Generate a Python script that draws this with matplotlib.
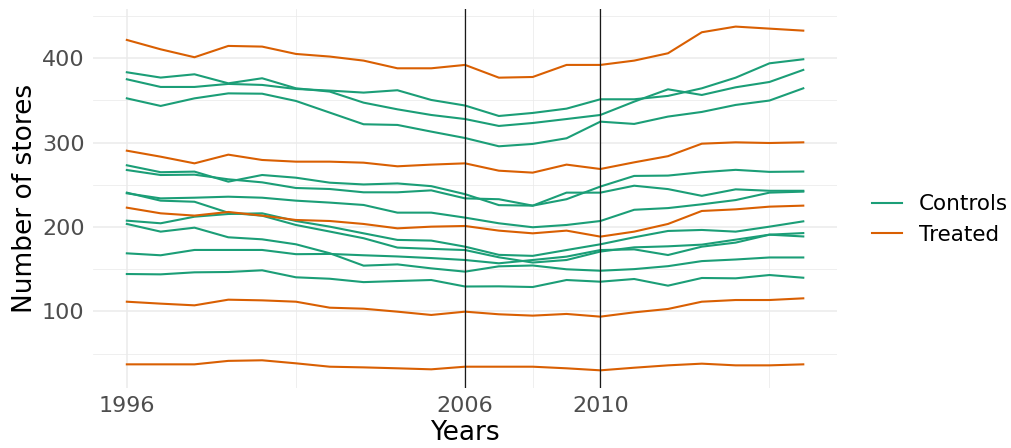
import matplotlib.pyplot as plt
from matplotlib.lines import Line2D

YEARS = [1996, 1997, 1998, 1999, 2000, 2001, 2002, 2003, 2004, 2005, 2006,
         2007, 2008, 2009, 2010, 2011, 2012, 2013, 2014, 2015, 2016]

# ---- Controls (green) ----
ctrl_1 = [383.4, 377.1, 381.0, 370.3, 376.3, 364.4, 360.5, 347.4, 339.5, 332.8, 328.0,
          319.8, 323.3, 328.0, 332.8, 348.6, 363.2, 356.5, 365.6, 371.9, 386.2]
ctrl_2 = [375.1, 366.0, 366.0, 369.6, 368.4, 363.6, 361.7, 359.3, 362.1, 350.6, 344.0,
          331.6, 335.2, 340.3, 351.4, 351.4, 355.4, 364.4, 377.0, 394.0, 398.8]
ctrl_3 = [352.5, 343.5, 352.5, 358.4, 358.0, 349.4, 335.6, 321.8, 321.0, 313.1, 305.5,
          295.7, 298.5, 305.2, 324.9, 322.2, 330.9, 336.4, 344.7, 349.9, 364.4]
ctrl_4 = [273.2, 265.0, 265.7, 253.8, 261.7, 258.5, 252.6, 250.5, 251.7, 248.5, 239.0,
          226.0, 225.4, 240.8, 240.8, 249.0, 245.0, 237.0, 244.7, 243.0, 243.0]
ctrl_5 = [267.6, 261.7, 262.1, 256.6, 253.0, 246.3, 245.1, 241.2, 241.2, 243.5, 234.0,
          233.0, 225.4, 233.0, 248.0, 260.6, 261.0, 265.0, 267.8, 265.4, 265.8]
ctrl_6 = [240.0, 234.0, 234.8, 236.0, 234.8, 231.3, 229.0, 226.2, 217.1, 217.1, 211.2,
          204.5, 199.8, 202.5, 207.2, 220.5, 222.5, 227.0, 232.0, 240.8, 242.0]
ctrl_7 = [240.8, 231.3, 230.0, 217.0, 213.5, 202.5, 194.7, 186.8, 175.7, 174.2, 172.8,
          164.2, 158.0, 161.0, 171.0, 176.0, 177.2, 179.2, 185.1, 191.0, 192.9]
ctrl_8 = [207.6, 204.5, 212.3, 215.5, 216.3, 207.2, 200.5, 192.6, 184.8, 184.0, 176.8,
          167.1, 165.9, 172.8, 179.6, 187.9, 195.4, 196.6, 194.6, 200.5, 206.8]
ctrl_9 = [203.7, 194.6, 199.3, 187.9, 185.5, 179.6, 169.0, 154.3, 155.8, 151.1, 147.2,
          153.5, 154.5, 150.0, 148.3, 150.2, 153.7, 159.7, 161.6, 164.0, 164.0]
ctrl_10 = [168.9, 166.6, 172.9, 172.9, 172.9, 167.9, 168.2, 166.6, 165.2, 163.3, 161.0,
           157.1, 161.0, 165.0, 172.8, 173.6, 166.9, 176.8, 181.6, 191.0, 188.9]
ctrl_11 = [144.4, 144.0, 146.4, 146.8, 148.8, 140.5, 138.8, 134.8, 136.1, 137.3, 129.6,
           129.8, 129.0, 137.3, 135.3, 138.5, 130.6, 139.7, 139.3, 143.2, 140.0]

# ---- Treated (orange) ----
treat_1 = [421.7, 410.6, 401.2, 414.6, 413.8, 405.1, 402.0, 397.2, 388.1, 388.1, 392.1,
           377.0, 377.8, 392.1, 392.1, 397.2, 405.9, 430.8, 437.5, 435.1, 432.7]
treat_2 = [290.5, 283.4, 275.5, 285.8, 279.5, 277.5, 277.5, 276.3, 272.0, 274.0, 275.5,
           266.8, 264.5, 274.0, 268.8, 276.7, 284.0, 298.8, 300.4, 299.6, 300.4]
treat_3 = [223.0, 216.3, 213.6, 217.9, 213.6, 208.4, 207.2, 203.7, 198.5, 200.5, 201.3,
           195.8, 192.6, 195.8, 188.7, 194.6, 203.7, 219.1, 221.0, 224.2, 225.4]
treat_4 = [111.6, 109.3, 107.3, 114.0, 113.2, 111.6, 104.5, 103.3, 99.8, 95.9, 99.8,
           96.7, 95.1, 97.1, 93.9, 99.0, 103.0, 111.6, 113.6, 113.6, 115.6]
treat_5 = [37.4, 37.4, 37.4, 41.5, 42.2, 38.6, 34.6, 33.8, 32.7, 31.5, 34.6,
           34.6, 34.6, 32.7, 30.3, 33.4, 36.2, 38.2, 36.2, 36.2, 37.4]

controls = [ctrl_1, ctrl_2, ctrl_3, ctrl_4, ctrl_5, ctrl_6, ctrl_7, ctrl_8,
            ctrl_9, ctrl_10, ctrl_11]
treated = [treat_1, treat_2, treat_3, treat_4, treat_5]

EVENT_YEARS = [2006, 2010]
X_TICKS = [1996, 2006, 2010]
X_MINOR = [2001, 2008, 2015]
Y_TICKS = [100, 200, 300, 400]
Y_MINOR = [50, 150, 250, 350, 450]

GREEN = "#1B9E77"
ORANGE = "#D95F02"

fig = plt.figure(figsize=(10.11, 4.48), dpi=100)
ax = fig.add_axes([0.092, 0.135, 0.736, 0.844])

for s in controls:
    ax.plot(YEARS, s, color=GREEN, linewidth=1.5, zorder=2)
for s in treated:
    ax.plot(YEARS, s, color=ORANGE, linewidth=1.5, zorder=2)

for yr in EVENT_YEARS:
    ax.axvline(yr, color="#1a1a1a", linewidth=0.9, zorder=3)

# ggplot-like 5% expansion
allv = [v for s in controls + treated for v in s]
lo, hi = min(allv), max(allv)
pad = 0.05 * (hi - lo)
ax.set_ylim(lo - pad, hi + pad)
xpad = 0.05 * (YEARS[-1] - YEARS[0])
ax.set_xlim(YEARS[0] - xpad, YEARS[-1] + xpad)

ax.set_xticks(X_TICKS)
ax.set_xticks(X_MINOR, minor=True)
ax.set_yticks(Y_TICKS)
ax.set_yticks(Y_MINOR, minor=True)
ax.grid(which="major", color="#EBEBEB", linewidth=1.1, zorder=0)
ax.grid(which="minor", color="#EBEBEB", linewidth=0.55, zorder=0)
ax.set_axisbelow(True)
for sp in ax.spines.values():
    sp.set_visible(False)
ax.tick_params(which="both", length=0, labelsize=16, labelcolor="#4D4D4D", pad=6)

ax.set_xlabel("Years", fontsize=19, labelpad=3)
ax.set_ylabel("Number of stores", fontsize=19, labelpad=3)

handles = [Line2D([], [], color=GREEN, linewidth=1.5),
           Line2D([], [], color=ORANGE, linewidth=1.5)]
fig.legend(handles, ["Controls", "Treated"], loc="center left",
           bbox_to_anchor=(0.843, 0.51), frameon=False, fontsize=15.5,
           handlelength=1.4, handletextpad=0.8, labelspacing=0.5)

fig.savefig("out.png", dpi=100)
